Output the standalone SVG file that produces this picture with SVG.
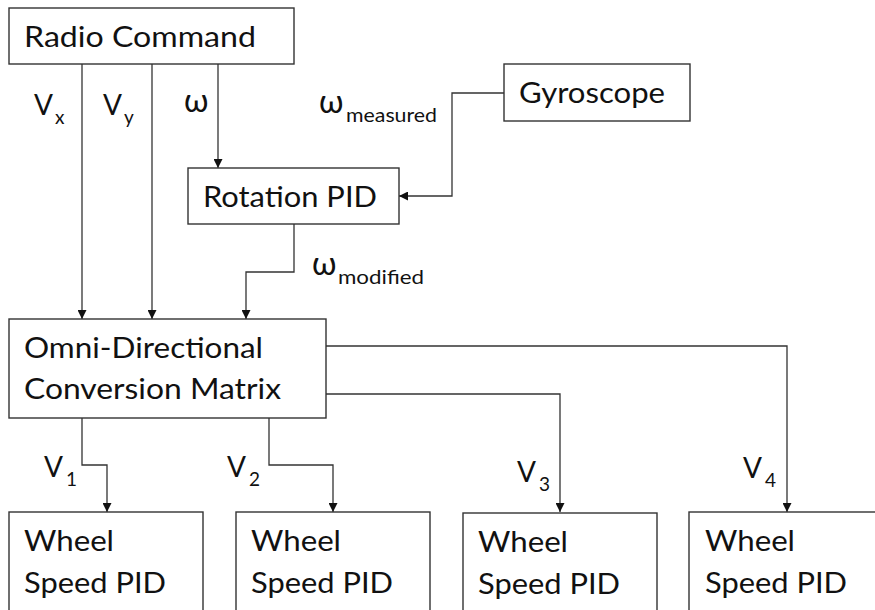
<svg xmlns="http://www.w3.org/2000/svg" width="875" height="610" viewBox="0 0 875 610">
<defs>
<style>
.box{fill:#fff;stroke:#333;stroke-width:1.4}
.c{fill:none;stroke:#333;stroke-width:1.3;marker-end:url(#ah)}
text{font-family:Lato,"Open Sans","Liberation Sans",sans-serif;font-size:28px;fill:#111}
.s{font-size:19px}
.w{font-size:32px}
</style>
<marker id="ah" viewBox="0 0 10 10" refX="10" refY="5" markerWidth="9" markerHeight="9" markerUnits="userSpaceOnUse" orient="auto">
<path d="M0,0 L10,5 L0,10 z" fill="#111"/>
</marker>
</defs>
<rect width="875" height="610" fill="#fff"/>
<g id="connectors">
<path class="c" d="M82,64 V319"/>
<path class="c" d="M152,64 V319"/>
<path class="c" d="M218,64 V168"/>
<path class="c" d="M504,93 H452 V196 H399"/>
<path class="c" d="M294,224 V272 H246 V319"/>
<path class="c" d="M326,346 H787 V512"/>
<path class="c" d="M326,394 H560 V512"/>
<path class="c" d="M82,418 V465 H107 V512"/>
<path class="c" d="M269,418 V465 H333 V512"/>
</g>
<g id="labels">
<text x="34" y="115">V</text><text class="s" x="55" y="124">x</text>
<text x="103" y="115">V</text><text class="s" x="124" y="124">y</text>
<text class="w" x="184" y="112">ω</text>
<text class="w" x="319" y="113">ω</text><text class="s" x="346" y="122" textLength="91" lengthAdjust="spacingAndGlyphs">measured</text>
<text class="w" x="312" y="275">ω</text><text class="s" x="338" y="284" textLength="86" lengthAdjust="spacingAndGlyphs">modified</text>
<text x="44" y="477">V</text><text class="s" x="66" y="486">1</text>
<text x="227" y="477">V</text><text class="s" x="249" y="486">2</text>
<text x="517" y="482">V</text><text class="s" x="539" y="491">3</text>
<text x="743" y="478">V</text><text class="s" x="765" y="487">4</text>
</g>
<g id="radio">
<rect class="box" x="9" y="8" width="285" height="56"/>
<text x="24" y="47" textLength="232" lengthAdjust="spacingAndGlyphs">Radio Command</text>
</g>
<g id="gyro">
<rect class="box" x="504" y="64" width="186" height="57"/>
<text x="519" y="103" textLength="146" lengthAdjust="spacingAndGlyphs">Gyroscope</text>
</g>
<g id="rotpid">
<rect class="box" x="188" y="168" width="211" height="56"/>
<text x="203" y="207" textLength="174" lengthAdjust="spacingAndGlyphs">Rotation PID</text>
</g>
<g id="omni">
<rect class="box" x="9" y="319" width="317" height="99"/>
<text x="24" y="358" textLength="239" lengthAdjust="spacingAndGlyphs">Omni-Directional</text>
<text x="24" y="399" textLength="257" lengthAdjust="spacingAndGlyphs">Conversion Matrix</text>
</g>
<g id="wheel1">
<rect class="box" x="9" y="512" width="194" height="130"/>
<text x="24" y="551" textLength="90" lengthAdjust="spacingAndGlyphs">Wheel</text>
<text x="24" y="593" textLength="142" lengthAdjust="spacingAndGlyphs">Speed PID</text>
</g>
<g id="wheel2">
<rect class="box" x="236" y="512" width="194" height="130"/>
<text x="251" y="551" textLength="90" lengthAdjust="spacingAndGlyphs">Wheel</text>
<text x="251" y="593" textLength="142" lengthAdjust="spacingAndGlyphs">Speed PID</text>
</g>
<g id="wheel3">
<rect class="box" x="463" y="513" width="194" height="130"/>
<text x="478" y="552" textLength="90" lengthAdjust="spacingAndGlyphs">Wheel</text>
<text x="478" y="594" textLength="142" lengthAdjust="spacingAndGlyphs">Speed PID</text>
</g>
<g id="wheel4">
<rect class="box" x="689" y="512" width="200" height="130"/>
<text x="705" y="551" textLength="90" lengthAdjust="spacingAndGlyphs">Wheel</text>
<text x="705" y="593" textLength="142" lengthAdjust="spacingAndGlyphs">Speed PID</text>
</g>
</svg>
